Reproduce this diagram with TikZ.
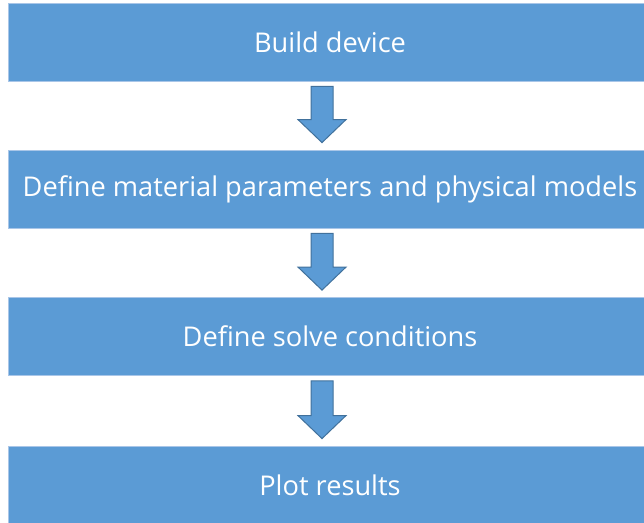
\documentclass[tikz,border=0pt]{standalone}
\usepackage{fontspec}
\setmainfont{Open Sans}
\usetikzlibrary{calc}
\definecolor{stepfill}{HTML}{5B9BD5}
\definecolor{stepedge}{HTML}{A9C6E8}
\definecolor{arrowedge}{HTML}{41719C}
\tikzset{
  stepbox/.style={rectangle, fill=stepfill, draw=stepedge, line width=0.8pt,
    minimum width=644pt, minimum height=78pt, inner sep=0pt,
    text=white, font=\fontsize{27.2}{32}\selectfont},
  blockarrow/.style={fill=stepfill, draw=arrowedge, line width=1pt, line join=miter},
}
% block arrow between two boxes: shaft 22pt wide, head 48pt wide and 23pt long
\newcommand{\flowarrow}[2]{%
  \draw[blockarrow]
    ($(#1.south)+(-19pt,-5pt)$) -- ($(#1.south)+(3pt,-5pt)$)
    -- ($(#2.north)+(3pt,30pt)$) -- ($(#2.north)+(16pt,30pt)$)
    -- ($(#2.north)+(-8pt,7pt)$)
    -- ($(#2.north)+(-32pt,30pt)$) -- ($(#2.north)+(-19pt,30pt)$) -- cycle;}
\begin{document}
\begin{tikzpicture}[x=1pt,y=1pt]
  \useasboundingbox (0,0) rectangle (644,522);
  \node[stepbox] (build) at (330,480) {Build device};
  \node[stepbox] (params) at (330,333) {Define material parameters and physical models};
  \node[stepbox] (solve) at (330,185.5) {Define solve conditions};
  \node[stepbox] (plot) at (330,37) {Plot results};
  \flowarrow{build}{params}
  \flowarrow{params}{solve}
  \flowarrow{solve}{plot}
\end{tikzpicture}
\end{document}
